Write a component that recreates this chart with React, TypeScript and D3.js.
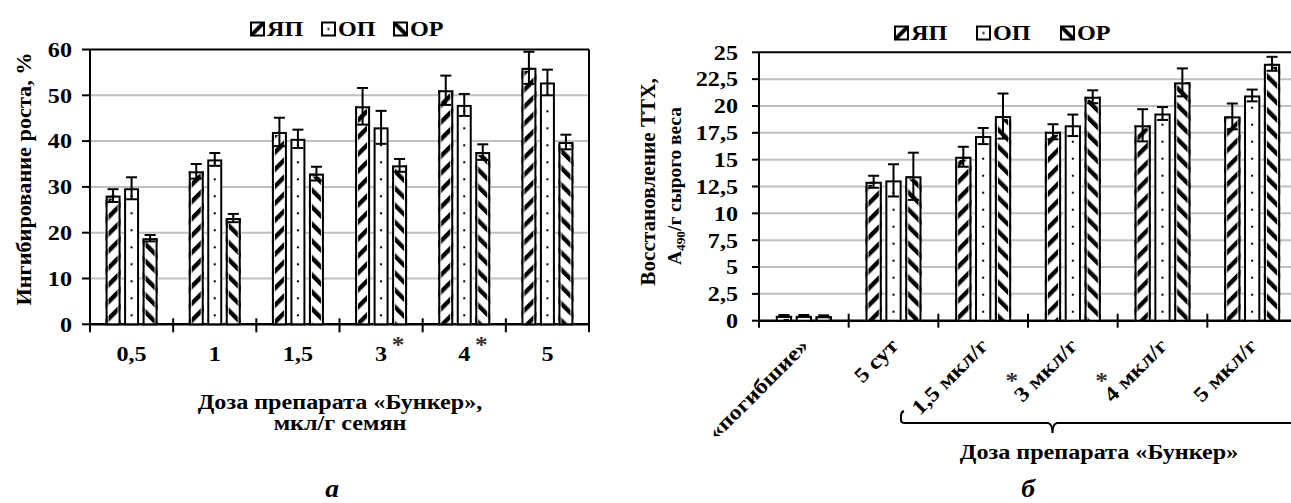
import React from "react";
import * as d3 from "d3";

const seriesNames = ["ЯП", "ОП", "ОР"];

const leftCategories = ["0,5", "1", "1,5", "3", "4", "5"];
const leftStarred = ["3", "4"];
const leftYP = [28.1, 33.4, 42.0, 47.6, 51.1, 56.0];
const leftYPErr = [1.4, 1.6, 3.1, 4.0, 3.2, 3.5];
const leftOP = [29.7, 36.0, 40.5, 43.0, 47.9, 52.8];
const leftOPErr = [2.4, 1.4, 2.0, 3.6, 2.4, 2.8];
const leftOR = [18.8, 23.2, 32.9, 34.7, 37.6, 39.8];
const leftORErr = [0.7, 0.9, 1.5, 1.4, 1.7, 1.6];
const leftTicks = [0, 10, 20, 30, 40, 50, 60];

const rightCategories = ["«погибшие»", "5 сут", "1,5 мкл/г", "3 мкл/г", "4 мкл/г", "5 мкл/г"];
const rightStarred = ["3 мкл/г", "4 мкл/г"];
const rightYP = [0.45, 12.94, 15.27, 17.6, 18.2, 19.03];
const rightYPErr = [0.08, 0.56, 0.93, 0.7, 1.5, 1.2];
const rightOP = [0.45, 13.07, 17.2, 18.2, 19.3, 20.98];
const rightOPErr = [0.08, 1.5, 0.75, 1.0, 0.6, 0.55];
const rightOR = [0.42, 13.45, 19.06, 20.86, 22.2, 23.93];
const rightORErr = [0.08, 2.2, 2.1, 0.6, 1.3, 0.65];
const rightTicks = [0, 2.5, 5, 7.5, 10, 12.5, 15, 17.5, 20, 22.5, 25];

const FONT = "Liberation Serif";
const W = 1291;
const H = 503;

const fmt = (v: number) => String(v).replace(".", ",");

type ChartCfg = {
  categories: string[];
  values: number[][];
  errs: number[][];
  ticks: number[];
  yMax: number;
  xRange: [number, number];
  yRange: [number, number];
  subRange: [number, number];
  subPad: number;
  boxRight: boolean;
};

function buildChart(cfg: ChartCfg) {
  const x = d3.scaleBand<string>().domain(cfg.categories).range(cfg.xRange).paddingInner(0).paddingOuter(0);
  const sub = d3.scaleBand<string>().domain(seriesNames).range(cfg.subRange).paddingInner(cfg.subPad).paddingOuter(0);
  const y = d3.scaleLinear().domain([0, cfg.yMax]).range(cfg.yRange);
  return { x, sub, y };
}

function T({
  x,
  y,
  rot = 0,
  sx = 1.15,
  size = 21,
  anchor = "middle",
  italic = false,
  dy,
  fill = "#000",
  children,
}: {
  x: number;
  y: number;
  rot?: number;
  sx?: number;
  size?: number;
  anchor?: string;
  italic?: boolean;
  dy?: string;
  fill?: string;
  children: React.ReactNode;
}) {
  return (
    <text
      transform={`translate(${x},${y}) rotate(${rot}) scale(${sx},1)`}
      textAnchor={anchor}
      fontFamily={FONT}
      fontWeight="bold"
      fontStyle={italic ? "italic" : "normal"}
      fontSize={size}
      dy={dy}
      fill={fill}
    >
      {children}
    </text>
  );
}

const fills = ["url(#stripeUp)", "", "url(#stripeDown)"];

function Bars({ cfg, dotId }: { cfg: ChartCfg; dotId: string }) {
  const { x, sub, y } = buildChart(cfg);
  const bw = sub.bandwidth();
  const els: React.ReactNode[] = [];
  cfg.categories.forEach((c, ci) => {
    const cx = (x(c) as number) + x.bandwidth() / 2;
    seriesNames.forEach((s, si) => {
      const v = cfg.values[si][ci];
      const e = cfg.errs[si][ci];
      const bx = cx + (sub(s) as number);
      const top = y(v);
      const base = y(0);
      const fill = si === 1 ? `url(#${dotId})` : fills[si];
      els.push(
        <g key={`${c}-${s}`}>
          <rect x={bx} y={top} width={bw} height={base - top} fill="#fff" />
          <rect x={bx} y={top} width={bw} height={base - top} fill={fill} />
          <rect x={bx + 2.5} y={top + 2.5} width={Math.max(bw - 5, 0)} height={Math.max(base - top - 2.5, 0)} fill="none" stroke="#fff" strokeWidth={1} />
          <rect x={bx + 1} y={top + 1} width={bw - 2} height={Math.max(base - top - 1, 0)} fill="none" stroke="#000" strokeWidth={2} />
          <line x1={bx + bw / 2} x2={bx + bw / 2} y1={y(v - e)} y2={y(v + e)} stroke="#000" strokeWidth={2} />
          <line x1={bx + bw / 2 - 5.5} x2={bx + bw / 2 + 5.5} y1={y(v + e)} y2={y(v + e)} stroke="#000" strokeWidth={2} />
          <line x1={bx + bw / 2 - 5.5} x2={bx + bw / 2 + 5.5} y1={y(v - e)} y2={y(v - e)} stroke="#000" strokeWidth={2} />
        </g>
      );
    });
  });
  return <g>{els}</g>;
}

function Frame({ cfg, tickUp, tickDown, yTickLen, labelRight }: { cfg: ChartCfg; tickUp: number; tickDown: number; yTickLen: number; labelRight: number }) {
  const { x, y } = buildChart(cfg);
  const [x0, x1] = cfg.xRange;
  const boundaries = [...cfg.categories.map((c) => x(c) as number), x1];
  return (
    <g>
      {cfg.ticks.slice(1, -1).map((t) => (
        <line key={`g${t}`} x1={x0} x2={x1} y1={y(t)} y2={y(t)} stroke="#c0c0c0" strokeWidth={2} />
      ))}
      <line x1={x0} x2={x1} y1={y(cfg.yMax)} y2={y(cfg.yMax)} stroke="#000" strokeWidth={2} />
      {cfg.boxRight && <line x1={x1} x2={x1} y1={y(cfg.yMax)} y2={y(0)} stroke="#000" strokeWidth={2} />}
      {cfg.ticks.map((t) => (
        <g key={`t${t}`}>
          <line x1={x0 - yTickLen} x2={x0} y1={y(t)} y2={y(t)} stroke="#000" strokeWidth={2} />
          <T x={labelRight} y={y(t)} dy="0.35em" anchor="end">
            {fmt(t)}
          </T>
        </g>
      ))}
      {boundaries.map((b, i) => (
        <line key={`b${i}`} x1={b} x2={b} y1={y(0) - (i === 0 ? 0 : tickUp)} y2={y(0) + tickDown} stroke="#000" strokeWidth={2} />
      ))}
      <line x1={x0} x2={x0} y1={y(cfg.yMax)} y2={y(0)} stroke="#000" strokeWidth={2} />
      <line x1={x0} x2={x1} y1={y(0)} y2={y(0)} stroke="#000" strokeWidth={2.5} />
    </g>
  );
}

function Legend({ items }: { items: { x: number; y: number }[] }) {
  const legendFills = ["url(#stripeUpL)", "url(#dotL)", "url(#stripeDownL)"];
  return (
    <g>
      {seriesNames.map((s, i) => (
        <g key={s}>
          <rect x={items[i].x} y={items[i].y - 6.5} width={13} height={13} fill="#fff" />
          <rect x={items[i].x} y={items[i].y - 6.5} width={13} height={13} fill={legendFills[i]} stroke="#000" strokeWidth={2} />
          <T x={items[i].x + 16} y={items[i].y} dy="0.35em" anchor="start">
            {s}
          </T>
        </g>
      ))}
    </g>
  );
}

export default function App() {
  const left: ChartCfg = {
    categories: leftCategories,
    values: [leftYP, leftOP, leftOR],
    errs: [leftYPErr, leftOPErr, leftORErr],
    ticks: leftTicks,
    yMax: 60,
    xRange: [90, 589],
    yRange: [324.3, 49.5],
    subRange: [-26, 26],
    subPad: 0.19,
    boxRight: true,
  };
  const right: ChartCfg = {
    categories: rightCategories,
    values: [rightYP, rightOP, rightOR],
    errs: [rightYPErr, rightOPErr, rightORErr],
    ticks: rightTicks,
    yMax: 25,
    xRange: [759, 1297],
    yRange: [320.7, 52.3],
    subRange: [-28, 28],
    subPad: 0.18,
    boxRight: false,
  };
  const L = buildChart(left);
  const R = buildChart(right);

  const dotPattern = (cfg: ChartCfg, id: string) => {
    const { x, sub, y } = buildChart(cfg);
    const step = x.step();
    const cx = step / 2 + (sub("ОП") as number) + sub.bandwidth() / 2;
    return (
      <pattern id={id} patternUnits="userSpaceOnUse" x={cfg.xRange[0]} y={y(0)} width={step} height={17}>
        <rect x={cx - 1} y={7} width={2} height={2} fill="#000" />
      </pattern>
    );
  };

  const leftCx = (c: string) => (L.x(c) as number) + L.x.bandwidth() / 2;
  const rightCx = (c: string) => (R.x(c) as number) + R.x.bandwidth() / 2;
  const braceX = (R.x("3 мкл/г") as number) + 24.5;

  return (
    <svg width={W} height={H} style={{ position: "absolute", left: 0, top: 0, background: "#fff" }}>
      <defs>
        <pattern id="stripeUp" patternUnits="userSpaceOnUse" width={12} height={12} patternTransform="rotate(45)">
          <rect x={0} y={0} width={4.4} height={12} fill="#000" />
        </pattern>
        <pattern id="stripeDown" patternUnits="userSpaceOnUse" width={12} height={12} patternTransform="rotate(-45)">
          <rect x={0} y={0} width={4.4} height={12} fill="#000" />
        </pattern>
        <pattern id="stripeUpL" patternUnits="objectBoundingBox" width={1} height={1} viewBox="0 0 13 13">
          <path d="M0,13 L13,0" stroke="#000" strokeWidth={4} />
        </pattern>
        <pattern id="stripeDownL" patternUnits="objectBoundingBox" width={1} height={1} viewBox="0 0 13 13">
          <path d="M0,0 L13,13" stroke="#000" strokeWidth={4} />
        </pattern>
        <pattern id="dotL" patternUnits="objectBoundingBox" width={1} height={1} viewBox="0 0 13 13">
          <rect x={5.5} y={5.5} width={2} height={2} fill="#000" />
        </pattern>
        {dotPattern(left, "dotsLeft")}
        {dotPattern(right, "dotsRight")}
      </defs>
      <rect x={0} y={0} width={W} height={H} fill="#fff" />

      {/* Left chart */}
      <Frame cfg={left} tickUp={6} tickDown={8} yTickLen={8} labelRight={72} />
      <Bars cfg={left} dotId="dotsLeft" />
      <Legend items={[{ x: 251, y: 29 }, { x: 322, y: 29 }, { x: 394, y: 29 }]} />
      {leftCategories.map((c) => (
        <T key={c} x={leftCx(c)} y={361}>
          {c}
        </T>
      ))}
      {leftStarred.map((c) => (
        <T key={`s${c}`} x={leftCx(c) + 17} y={352} size={23} sx={1.1} fill="#333">
          *
        </T>
      ))}
      <T x={31} y={179} rot={-90} size={21} sx={1.06}>
        Ингибирование роста, %
      </T>
      <T x={340} y={409}>
        Доза препарата «Бункер»,
      </T>
      <T x={340} y={430}>
        мкл/г семян
      </T>
      <T x={332} y={497} size={25} sx={1.1} italic>
        а
      </T>

      {/* Right chart */}
      <Frame cfg={right} tickUp={7} tickDown={7} yTickLen={7} labelRight={738} />
      <Bars cfg={right} dotId="dotsRight" />
      <Legend items={[{ x: 895, y: 33 }, { x: 977, y: 33 }, { x: 1061, y: 33 }]} />
      {rightCategories.map((c) => (
        <T key={c} x={rightCx(c) + 6} y={347} rot={-45} anchor="end">
          {c}
        </T>
      ))}
      {rightStarred.map((c) => (
        <T key={`s${c}`} x={rightCx(c) - 61} y={388} size={23} sx={1.1} fill="#333">
          *
        </T>
      ))}
      <T x={655} y={182} rot={-90} size={20} sx={1.06}>
        Восстановление ТТХ,
      </T>
      <T x={681} y={186} rot={-90} size={19} sx={1.02}>
        <tspan>A</tspan>
        <tspan fontSize={13} dy={4}>490</tspan>
        <tspan dy={-4}>/г сырого веса</tspan>
      </T>
      <path
        d={`M904,411 Q901,412 901,416 L901,420 Q901,423 905,423 L${braceX - 4.5},423 Q${braceX},424 ${braceX},433 Q${braceX},424 ${braceX + 4.5},423 L1300,423`}
        fill="none"
        stroke="#000"
        strokeWidth={2}
      />
      <T x={1099} y={459}>
        Доза препарата «Бункер»
      </T>
      <T x={1028} y={497} size={25} sx={1.1} italic>
        б
      </T>
    </svg>
  );
}
